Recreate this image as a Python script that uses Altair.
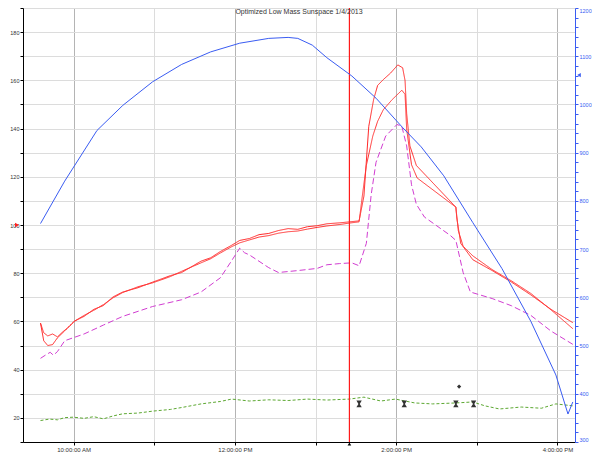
import altair as alt
import pandas as pd

# ---------------- data (x in decimal hours, 1/4/2013) ----------------
title_text = "Optimized Low Mass Sunspace 1/4/2013"

red_a_x = [9.59, 9.63, 9.68, 9.74, 9.80, 9.89, 10.01, 10.13, 10.25, 10.37, 10.49, 10.61, 10.80, 10.98,
           11.20, 11.34, 11.58, 11.70, 11.82, 11.96, 12.06, 12.18, 12.30, 12.42, 12.54, 12.66, 12.78,
           12.90, 13.02, 13.14, 13.30, 13.42, 13.54, 13.60, 13.66, 13.72, 13.77, 13.84, 13.93, 14.02,
           14.08, 14.11, 14.13, 14.17, 14.25, 14.74, 14.75, 14.80, 14.95, 15.19, 15.43, 15.67, 15.92, 16.19]
red_a_y = [59.3, 52.0, 50.0, 50.4, 53.2, 56.1, 60.1, 62.1, 65.0, 66.6, 70.2, 72.2, 74.0, 76.3,
           79.0, 80.3, 85.0, 86.4, 89.0, 91.6, 93.6, 94.4, 96.0, 96.5, 97.7, 98.5, 98.2,
           99.3, 99.7, 100.5, 100.9, 101.3, 101.7, 112.0, 140.9, 152.0, 157.9, 160.3, 163.0, 166.4,
           165.2, 159.9, 146.2, 132.8, 124.7, 107.4, 103.3, 92.4, 85.6, 81.1, 76.3, 71.0, 65.0, 59.5]

red_b_x = [9.59, 9.63, 9.68, 9.74, 9.80, 9.86, 9.95, 10.01, 10.13, 10.25, 10.37, 10.49, 10.61, 10.80,
           10.98, 11.20, 11.34, 11.58, 11.70, 11.82, 11.96, 12.06, 12.18, 12.30, 12.42, 12.54, 12.66,
           12.78, 12.90, 13.02, 13.14, 13.30, 13.42, 13.54, 13.58, 13.63, 13.71, 13.77, 13.84, 13.95,
           14.07, 14.11, 14.13, 14.19, 14.26, 14.74, 14.77, 14.83, 14.95, 15.19, 15.43, 15.67, 15.92, 16.19]
red_b_y = [59.3, 55.3, 54.0, 54.8, 53.6, 55.5, 58.0, 60.1, 62.5, 64.6, 67.0, 69.8, 72.0, 74.4,
           76.0, 78.6, 80.8, 84.3, 86.0, 88.4, 91.0, 92.6, 93.8, 95.0, 95.6, 96.6, 97.2,
           97.5, 98.3, 99.0, 99.6, 100.2, 100.8, 101.3, 112.0, 124.7, 136.9, 143.0, 147.8, 152.0,
           155.9, 154.2, 139.7, 125.0, 119.5, 107.4, 97.7, 91.2, 87.2, 81.5, 76.8, 71.6, 64.8, 57.0]

mag_x = [9.59, 9.65, 9.71, 9.75, 9.80, 9.89, 10.13, 10.37, 10.61, 10.98, 11.34, 11.58, 11.82, 11.96,
         12.06, 12.12, 12.18, 12.42, 12.54, 12.78, 13.02, 13.14, 13.30, 13.45, 13.54, 13.63, 13.69,
         13.75, 13.87, 14.01, 14.07, 14.13, 14.19, 14.25, 14.35, 14.67, 14.74, 14.83, 14.92, 15.19,
         15.43, 15.67, 15.92, 16.19]
mag_y = [44.7, 46.0, 47.2, 46.0, 47.5, 52.0, 54.8, 58.5, 62.1, 66.2, 69.0, 72.2, 78.1, 85.2,
         90.4, 88.5, 87.6, 82.3, 80.3, 81.1, 82.0, 83.5, 84.0, 84.3, 83.1, 92.4, 112.6,
         126.0, 136.9, 141.7, 140.9, 132.8, 116.7, 108.6, 103.3, 95.7, 93.6, 80.3, 72.2, 69.5,
         66.5, 62.5, 56.0, 50.5]

green_x = [9.59, 9.70, 9.80, 9.89, 10.00, 10.13, 10.25, 10.37, 10.49, 10.61, 10.80, 10.98, 11.20, 11.34,
           11.58, 11.82, 11.96, 12.18, 12.42, 12.66, 12.90, 13.14, 13.42, 13.60, 13.81, 13.99, 14.23,
           14.45, 14.74, 14.95, 15.10, 15.28, 15.55, 15.80, 15.98, 16.19]
green_y = [18.9, 19.5, 19.2, 20.1, 20.3, 19.8, 20.5, 19.6, 20.8, 21.7, 22.0, 22.8, 23.5, 24.3,
           25.8, 26.8, 27.8, 27.0, 27.5, 27.2, 27.8, 27.4, 27.8, 28.6, 27.0, 27.8, 26.2,
           25.8, 26.2, 26.6, 25.0, 23.7, 24.5, 24.0, 25.8, 25.0]

blue_x = [9.59, 9.89, 10.29, 10.61, 10.98, 11.34, 11.70, 12.06, 12.42, 12.66, 12.78, 12.96, 13.14,
          13.45, 13.75, 14.08, 14.31, 14.59, 14.95, 15.31, 15.67, 15.98, 16.13, 16.19]
blue_y = [753, 841, 946, 998, 1047, 1083, 1109, 1127, 1137, 1139, 1137, 1123, 1097,
          1059, 1013, 952, 912, 852, 755, 660, 550, 439, 358, 383]

hourglass_x = [13.54, 14.10, 14.74, 14.96]
hourglass_y = [25.8, 25.8, 25.8, 25.8]
diamond_x = [14.78]
diamond_y = [33.0]

cursor_x = [13.42]
left_marker = [100]
right_marker = [1061]

x_domain = [9.373, 16.217]
x_ticks = [10, 11, 12, 13, 14, 15, 16]
x_tick_labels = {10: "10:00:00 AM", 12: "12:00:00 PM", 14: "2:00:00 PM", 16: "4:00:00 PM"}

series_names = ["Red A", "Red B", "Magenta", "Green"]
series_colors = ["#ff2626", "#ff3030", "#d13dd1", "#5da832"]
series_dash = [[1, 0], [1, 0], [6, 3], [3, 2]]

# ---------------- frames ----------------
rows = []
for name, xs, ys in [("Red A", red_a_x, red_a_y), ("Red B", red_b_x, red_b_y),
                     ("Magenta", mag_x, mag_y), ("Green", green_x, green_y)]:
    for i, (a, b) in enumerate(zip(xs, ys)):
        rows.append({"series": name, "t": a, "v": b, "order": i})
left_df = pd.DataFrame(rows)
blue_df = pd.DataFrame({"t": blue_x, "v": blue_y, "order": list(range(len(blue_x)))})
hg_df = pd.DataFrame({"t": hourglass_x, "v": hourglass_y})
dm_df = pd.DataFrame({"t": diamond_x, "v": diamond_y})
cur_df = pd.DataFrame({"t": cursor_x})
lm_df = pd.DataFrame({"v": left_marker})
rm_df = pd.DataFrame({"v": right_marker})

W, H = 552, 434
FONT = "Liberation Sans"

label_expr = " : ".join(f"datum.value == {k} ? '{v}'" for k, v in x_tick_labels.items()) + " : ''"

x_enc = alt.X("t:Q", scale=alt.Scale(domain=x_domain, nice=False, zero=False),
              axis=alt.Axis(title=None, values=x_ticks, tickCount=50, labelExpr=label_expr, labelFontSize=6,
                            labelColor="#333", tickSize=3, tickColor="#000", domainColor="#000",
                            labelOverlap=False, labelPadding=1,
                            grid=True,
                            gridColor={"condition": {"test": "datum.value % 2 == 0", "value": "#b4b4b4"},
                                       "value": "#dcdcdc"}))

left_vals = list(range(10, 191, 10))
left_scale = alt.Scale(domain=[10, 190], nice=False, zero=False)
left_axis = alt.Axis(title=None, values=left_vals, tickCount=100,
                     labelExpr="datum.value % 20 == 0 ? format(datum.value, 'd') : ''",
                     labelOverlap=False,
                     labelFontSize=5.5, labelColor="#333", tickSize=3, tickColor="#000",
                     domainColor="#000", grid=True, gridColor="#dcdcdc", labelPadding=1)

lines = alt.Chart(left_df).mark_line(strokeWidth=1).encode(
    x=x_enc,
    y=alt.Y("v:Q", scale=left_scale, axis=left_axis),
    color=alt.Color("series:N", scale=alt.Scale(domain=series_names, range=series_colors), legend=None),
    strokeDash=alt.StrokeDash("series:N", scale=alt.Scale(domain=series_names, range=series_dash), legend=None),
    order="order:Q",
)

hourglass = alt.Chart(hg_df).mark_point(
    shape="M-0.8,-1L0.8,-1L0.2,0L0.8,1L-0.8,1L-0.2,0Z", filled=True, color="#333", size=45, opacity=1
).encode(x="t:Q", y=alt.Y("v:Q", scale=left_scale))

diamond = alt.Chart(dm_df).mark_point(shape="diamond", filled=True, color="#333", size=18, opacity=1).encode(
    x="t:Q", y=alt.Y("v:Q", scale=left_scale))

cursor = alt.Chart(cur_df).mark_rule(color="#ff1a1a", strokeWidth=1.2).encode(x="t:Q")
cursor_tri = alt.Chart(cur_df).mark_point(shape="triangle-up", filled=True, color="#000", size=14, opacity=1).encode(
    x="t:Q", y=alt.value(H + 2))

left_tri = alt.Chart(lm_df).mark_point(shape="triangle-right", filled=True, color="#ff2020", size=22, opacity=1).encode(
    x=alt.value(-6), y=alt.Y("v:Q", scale=left_scale))

left_layer = alt.layer(lines, hourglass, diamond, left_tri, cursor, cursor_tri)

right_vals = list(range(300, 1201, 20))
right_scale = alt.Scale(domain=[300, 1200], nice=False, zero=False)
blue = alt.Chart(blue_df).mark_line(color="#3a5cf2", strokeWidth=1).encode(
    x="t:Q",
    y=alt.Y("v:Q", scale=right_scale,
            axis=alt.Axis(title=None, orient="right", values=right_vals, tickCount=200,
                          labelExpr="datum.value % 100 == 0 ? format(datum.value, 'd') : ''",
                          labelOverlap=False, labelFlush=True,
                          labelFontSize=5.5, labelColor="#3a5cf2", tickSize=3, tickColor="#3a5cf2",
                          domainColor="#3a5cf2", grid=False, labelPadding=1)),
    order="order:Q",
)
right_tri = alt.Chart(rm_df).mark_point(shape="triangle-left", filled=True, color="#3a5cf2", size=18, opacity=1).encode(
    x=alt.value(W + 4), y=alt.Y("v:Q", scale=right_scale))

right_layer = alt.layer(blue, right_tri)

chart = alt.layer(left_layer, right_layer).resolve_scale(y="independent").properties(
    width=W, height=H,
    title=alt.TitleParams(title_text, fontSize=7, font=FONT, color="#333", fontWeight="normal", offset=-9),
    padding={"left": 15, "top": 0, "right": 17, "bottom": 11},
    autosize=alt.AutoSizeParams(type="none"),
).configure_view(strokeWidth=0).configure_axis(labelFont=FONT)

chart.save("out.html", embed_options={"renderer": "svg", "actions": False})
